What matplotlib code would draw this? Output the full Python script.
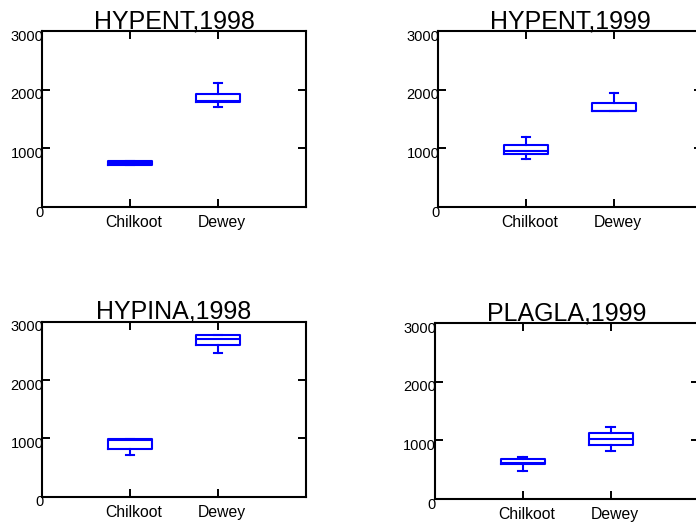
import matplotlib
matplotlib.use("Agg")
from matplotlib import pyplot as plt
import matplotlib.transforms as mtransforms

plt.rcParams['font.family'] = ['Liberation Sans', 'DejaVu Sans']

# panel titles and sites
titles = ['HYPENT,1998', 'HYPENT,1999', 'HYPINA,1998', 'PLAGLA,1999']
sites = ['Chilkoot', 'Dewey']

# box stats per panel, one value per site: [Chilkoot, Dewey]
whis_lo = [[715, 1710], [818, 1640], [720, 2458], [478, 825]]
q1 = [[720, 1785], [898, 1640], [826, 2609], [594, 926]]
med = [[750, 1800], [958, 1640], [980, 2700], [615, 1021]]
q3 = [[785, 1935], [1053, 1769], [989, 2769], [680, 1124]]
whis_hi = [[790, 2119], [1198, 1948], [989, 2769], [722, 1235]]

yticks = [0, 1000, 2000, 3000]

# axes positions [left, bottom, width, height] in figure fraction
positions = [
    [0.0603, 0.6057, 0.3793, 0.3352],
    [0.6293, 0.6057, 0.3793, 0.3352],
    [0.0603, 0.0539, 0.3793, 0.3333],
    [0.6246, 0.0495, 0.3793, 0.3347],
]

fig = plt.figure(figsize=(6.96, 5.25), dpi=100)

blue = (0, 0, 1)
lw = 1.5

for i in range(4):
    ax = fig.add_axes(positions[i])
    stats = []
    for j in range(len(sites)):
        stats.append(dict(label=sites[j], whislo=whis_lo[i][j], q1=q1[i][j],
                          med=med[i][j], q3=q3[i][j], whishi=whis_hi[i][j],
                          fliers=[]))
    ax.bxp(stats, positions=[1, 2], widths=0.5, capwidths=0.1,
           showfliers=False,
           boxprops=dict(color=blue, linewidth=lw),
           medianprops=dict(color=blue, linewidth=lw),
           whiskerprops=dict(color=blue, linewidth=lw),
           capprops=dict(color=blue, linewidth=lw))
    ax.set_xlim(0, 3)
    ax.set_ylim(0, 3000)
    ax.set_xticks([1, 2])
    ax.set_xticklabels(sites)
    ax.set_yticks(yticks)
    ax.set_yticklabels([str(v) for v in yticks])
    ax.tick_params(axis='both', direction='in', length=5.5, width=1.4,
                   top=True, right=True, colors='black')
    ax.tick_params(axis='x', pad=6, labelsize=11.3)
    ax.tick_params(axis='y', pad=-1, labelsize=10.5)
    # old export: y labels hang below the tick, x labels sit a bit right
    for lab in ax.get_yticklabels():
        lab.set_verticalalignment('top')
        lab.set_transform(lab.get_transform() +
                          mtransforms.ScaledTranslation(0, 1 / 72, fig.dpi_scale_trans))
    for lab in ax.get_xticklabels():
        lab.set_transform(lab.get_transform() +
                          mtransforms.ScaledTranslation(3 / 72, 0, fig.dpi_scale_trans))
    for sp in ax.spines.values():
        sp.set_linewidth(1.5)
    ax.set_title(titles[i], fontsize=18, pad=2)

fig.savefig('out.png', dpi=100)
